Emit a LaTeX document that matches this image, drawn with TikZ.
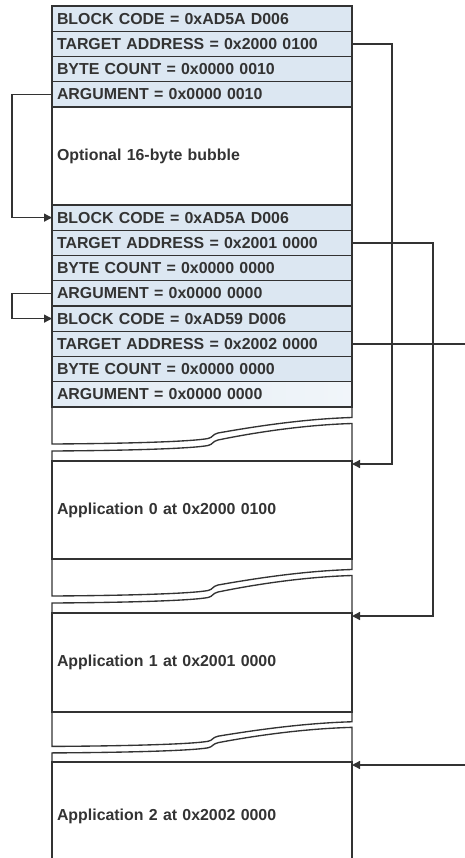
\documentclass[tikz,border=0pt]{standalone}
\usepackage{fontspec}
\newfontfamily\diagfont{Liberation Sans}
\usetikzlibrary{arrows.meta,positioning}
\definecolor{ink}{HTML}{333333}
\definecolor{cell}{HTML}{DCE7F2}

\begin{document}
\begin{tikzpicture}[
  x=1pt, y=-1pt,
  font=\diagfont\bfseries\fontsize{15.9}{18}\selectfont,
  color=ink, line width=1.35pt,
  word/.style={draw=ink, fill=cell, outer sep=0pt, inner xsep=5pt, inner ysep=0pt, text width=290pt, align=left, minimum height=25.25pt},
  area/.style={word, fill=white},
  gap/.pic={
    \draw (0,0) -- (0,37) .. controls (80,36.5) and (140,34.5) .. (156,31.5) .. controls (161,30.5) and (160,27.5) .. (166,26) .. controls (200,20) and (250,12) .. (300,10.5) -- (300,0);
    \draw (0,54) -- (0,44) .. controls (80,43.5) and (140,41.5) .. (156,38.5) .. controls (161,37.5) and (160,34.5) .. (166,33) .. controls (200,26) and (250,18) .. (300,16.5) -- (300,54);
  },
  >={Triangle[length=8pt,width=8pt]}]
  \useasboundingbox (0,0) rectangle (465,858);
  % first boot block
  \node[word, anchor=north west] (bc1) at (52,6) {BLOCK CODE = 0xAD5A D006};
  \node[word, below=0pt of bc1] (ta1) {TARGET ADDRESS = 0x2000 0100};
  \node[word, below=0pt of ta1] (cnt1) {BYTE COUNT = 0x0000 0010};
  \node[word, below=0pt of cnt1] (arg1) {ARGUMENT = 0x0000 0010};
  \node[area, below=0pt of arg1, minimum height=98pt] (bubble) {Optional 16-byte bubble};
  % second and third boot blocks
  \node[word, below=0pt of bubble] (bc2) {BLOCK CODE = 0xAD5A D006};
  \node[word, below=0pt of bc2] (ta2) {TARGET ADDRESS = 0x2001 0000};
  \node[word, below=0pt of ta2] (cnt2) {BYTE COUNT = 0x0000 0000};
  \node[word, below=0pt of cnt2] (arg2) {ARGUMENT = 0x0000 0000};
  \node[word, below=0pt of arg2] (bc3) {BLOCK CODE = 0xAD59 D006};
  \node[word, below=0pt of bc3] (ta3) {TARGET ADDRESS = 0x2002 0000};
  \node[word, below=0pt of ta3] (cnt3) {BYTE COUNT = 0x0000 0000};
  \node[word, below=0pt of cnt3, left color=cell!85, right color=cell!40] (arg3) {ARGUMENT = 0x0000 0000};
  % applications
  \pic at (arg3.south west) {gap};
  \node[area, below=54pt of arg3, minimum height=98pt] (app0) {Application 0 at 0x2000 0100};
  \pic at (app0.south west) {gap};
  \node[area, below=54pt of app0, minimum height=99pt] (app1) {Application 1 at 0x2001 0000};
  \pic[yscale=0.93] at (app1.south west) {gap};
  \node[area, draw=none, below=50pt of app1, minimum height=96pt, text height=25pt] (app2) {Application 2 at 0x2002 0000};
  \draw (app2.south west) |- (app2.north east) -- (app2.south east);
  % next-block links
  \draw[->] (arg1.west) -- ++(-40,0) |- (bc2.west);
  \draw[->] (arg2.west) -- ++(-40,0) |- (bc3.west);
  % jumps to the targets
  \coordinate (in0) at ([yshift=-3pt]app0.north east);
  \coordinate (in1) at ([yshift=-3pt]app1.north east);
  \coordinate (in2) at ([yshift=-3pt]app2.north east);
  \coordinate (rim) at (465,0);
  \draw[->] (ta1.east) -- ++(40,0) |- (in0);
  \draw[->] (ta2.east) -- ++(81,0) |- (in1);
  \draw (ta3.east) -- (ta3.east -| rim);
  \draw[->] (rim |- in2) -- (in2);
\end{tikzpicture}
\end{document}
